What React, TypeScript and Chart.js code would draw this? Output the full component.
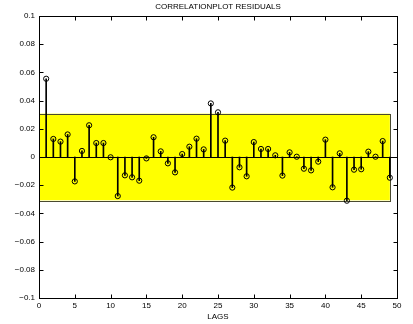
import React, { useEffect, useRef } from "react";
import { Chart, registerables } from "chart.js";

Chart.register(...registerables);

const LAGS = [
  1, 2, 3, 4, 5, 6, 7, 8, 9, 10, 11, 12, 13, 14, 15, 16, 17, 18, 19, 20, 21, 22, 23, 24, 25,
  26, 27, 28, 29, 30, 31, 32, 33, 34, 35, 36, 37, 38, 39, 40, 41, 42, 43, 44, 45, 46, 47, 48, 49,
];
const RESIDUAL_ACF = [
  0.0555, 0.0128, 0.0109, 0.016, -0.0173, 0.0043, 0.0225, 0.0099, 0.0099, -0.0002,
  -0.0277, -0.013, -0.0144, -0.0168, -0.001, 0.014, 0.004, -0.0045, -0.0109, 0.0021,
  0.0073, 0.013, 0.0054, 0.038, 0.0317, 0.0116, -0.0217, -0.0073, -0.0137, 0.0106,
  0.0057, 0.0057, 0.0012, -0.0132, 0.0033, 0.0002, -0.0083, -0.0095, -0.0033, 0.0123,
  -0.0215, 0.0026, -0.031, -0.009, -0.0087, 0.0038, 0.0002, 0.0113, -0.0147,
];
const BAND_LAGS = [0, 49];
const CONF_UPPER = 0.0307;
const CONF_LOWER = -0.0307;
const X_TICKS = [0, 5, 10, 15, 20, 25, 30, 35, 40, 45, 50];
const Y_TICKS = [-0.1, -0.08, -0.06, -0.04, -0.02, 0, 0.02, 0.04, 0.06, 0.08, 0.1];
const Y_LABELS = ["\u22120.1", "\u22120.08", "\u22120.06", "\u22120.04", "\u22120.02", "0", "0.02", "0.04", "0.06", "0.08", "0.1"];
const TITLE = "CORRELATIONPLOT RESIDUALS";
const X_TITLE = "LAGS";

const FONT = "'Liberation Sans', Arial, sans-serif";

const bandPlugin = {
  id: "bandPlugin",
  beforeDatasetsDraw(chart: any) {
    const { ctx, scales } = chart;
    const x = scales.x;
    const y = scales.y;
    const x0 = x.getPixelForValue(BAND_LAGS[0]);
    const x1 = x.getPixelForValue(BAND_LAGS[1]);
    const y0 = y.getPixelForValue(CONF_UPPER);
    const y1 = y.getPixelForValue(CONF_LOWER);
    ctx.save();
    ctx.fillStyle = "#ffff00";
    ctx.fillRect(x0, y0, x1 - x0, y1 - y0);
    ctx.strokeStyle = "#4a4a30";
    ctx.lineWidth = 1;
    ctx.strokeRect(Math.round(x0) + 0.5, Math.round(y0) + 0.5, Math.round(x1 - x0), Math.round(y1 - y0));
    const yz = Math.round(y.getPixelForValue(0)) + 0.5;
    ctx.strokeStyle = "#000";
    ctx.beginPath();
    ctx.moveTo(x.getPixelForValue(X_TICKS[0]), yz);
    ctx.lineTo(x.getPixelForValue(X_TICKS[X_TICKS.length - 1]), yz);
    ctx.stroke();
    ctx.restore();
  },
};

const boxPlugin = {
  id: "boxPlugin",
  afterDraw(chart: any) {
    const { ctx, chartArea, scales } = chart;
    const { left, right, top, bottom } = chartArea;
    const L = Math.round(left) + 0.5;
    const R = Math.round(right) + 0.5;
    const T = Math.round(top) + 0.5;
    const B = Math.round(bottom) + 0.5;
    const tl = 4;
    ctx.save();
    ctx.strokeStyle = "#000";
    ctx.lineWidth = 1;
    ctx.beginPath();
    X_TICKS.forEach((v) => {
      const px = Math.round(scales.x.getPixelForValue(v)) + 0.5;
      ctx.moveTo(px, B);
      ctx.lineTo(px, B - tl);
      ctx.moveTo(px, T);
      ctx.lineTo(px, T + tl);
    });
    Y_TICKS.forEach((v) => {
      const py = Math.round(scales.y.getPixelForValue(v)) + 0.5;
      ctx.moveTo(L, py);
      ctx.lineTo(L + tl, py);
      ctx.moveTo(R, py);
      ctx.lineTo(R - tl, py);
    });
    ctx.stroke();
    ctx.strokeRect(L, T, R - L, B - T);
    // title centred over the plot area
    ctx.fillStyle = "#000";
    ctx.font = "8px " + FONT;
    ctx.textAlign = "center";
    ctx.textBaseline = "middle";
    ctx.fillText(TITLE, (left + right) / 2, 7);
    ctx.restore();
  },
};

export default function App() {
  const ref = useRef<HTMLCanvasElement | null>(null);
  useEffect(() => {
    document.body.style.margin = "0";
    const canvas = ref.current;
    if (!canvas) return;
    const points = LAGS.map((l, i) => ({ x: l, y: RESIDUAL_ACF[i] }));
    const chart = new Chart(canvas, {
      type: "scatter",
      data: {
        datasets: [
          {
            type: "bar",
            data: points,
            backgroundColor: "#000",
            borderWidth: 0,
            barThickness: 1,
          } as any,
          {
            type: "scatter",
            data: points,
            pointStyle: "circle",
            pointRadius: 2.6,
            pointBorderWidth: 1,
            pointBorderColor: "#000",
            pointBackgroundColor: "rgba(0,0,0,0)",
            showLine: false,
          } as any,
        ],
      },
      options: {
        responsive: false,
        animation: false,
        events: [],
        layout: { padding: { left: 0, right: 16, top: 16, bottom: 0 } },
        plugins: {
          legend: { display: false },
          tooltip: { enabled: false },
          title: { display: false },
        },
        scales: {
          x: {
            type: "linear",
            min: 0,
            max: 50,
            offset: false,
            grid: { display: false, drawTicks: false },
            border: { display: false },
            afterBuildTicks: (s: any) => {
              s.ticks = X_TICKS.map((v) => ({ value: v }));
            },
            afterFit: (s: any) => {
              s.height = 26;
            },
            ticks: {
              color: "#000",
              font: { family: FONT, size: 8 },
              padding: 3,
              maxRotation: 0,
              autoSkip: false,
              callback: (v: any) => String(v),
            },
            title: {
              display: true,
              text: X_TITLE,
              color: "#000",
              font: { family: FONT, size: 8 },
              padding: { top: 0, bottom: 2 },
            },
          },
          y: {
            type: "linear",
            min: -0.1,
            max: 0.1,
            grid: { display: false, drawTicks: false },
            border: { display: false },
            afterBuildTicks: (s: any) => {
              s.ticks = Y_TICKS.map((v) => ({ value: v }));
            },
            afterFit: (s: any) => {
              s.width = 39;
            },
            ticks: {
              color: "#000",
              font: { family: FONT, size: 8 },
              padding: 4,
              autoSkip: false,
              callback: (_v: any, i: number) => Y_LABELS[i],
            },
          },
        },
      } as any,
      plugins: [bandPlugin, boxPlugin],
    });
    return () => chart.destroy();
  }, []);
  return (
    <div style={{ width: 413, height: 324, background: "#fff" }}>
      <canvas ref={ref} width={413} height={324} style={{ display: "block" }} />
    </div>
  );
}
